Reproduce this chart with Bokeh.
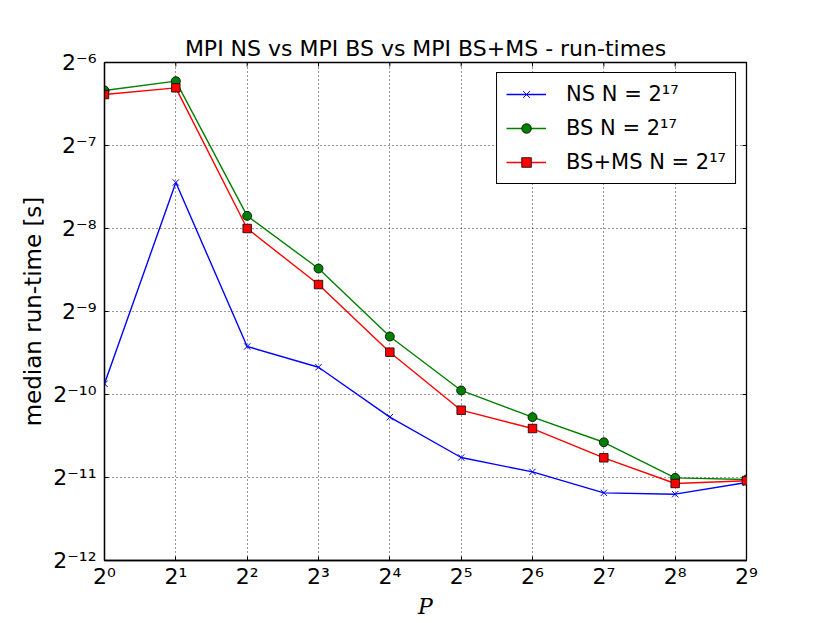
import math
from bokeh.plotting import figure
from bokeh.models import FixedTicker, Range1d, Legend, LegendItem
from bokeh.embed import file_html
from bokeh.resources import INLINE

# Data: number of processes P and median run-times in seconds
P = [1, 2, 4, 8, 16, 32, 64, 128, 256, 512]
ns_time = [0.001068, 0.005735, 0.001458, 0.0012264, 0.0008082,
           0.0005771, 0.0005117, 0.0004295, 0.0004248, 0.0004684]
bs_time = [0.01237, 0.01337, 0.004341, 0.002796, 0.001585,
           0.001010, 0.0008082, 0.0006554, 0.0004869, 0.0004802]
bsms_time = [0.011955, 0.012645, 0.003906, 0.002446, 0.0013906,
             0.0008566, 0.0007350, 0.0005755, 0.0004645, 0.0004750]

series_labels = ["NS N = 2¹⁷", "BS N = 2¹⁷", "BS+MS N = 2¹⁷"]

x_ticks = [1, 2, 4, 8, 16, 32, 64, 128, 256, 512]
x_tick_labels = ["2⁰", "2¹", "2²", "2³", "2⁴", "2⁵", "2⁶", "2⁷", "2⁸", "2⁹"]
y_ticks = [0.000244140625, 0.00048828125, 0.0009765625, 0.001953125,
           0.00390625, 0.0078125, 0.015625]
y_tick_labels = ["2⁻¹²", "2⁻¹¹", "2⁻¹⁰", "2⁻⁹", "2⁻⁸", "2⁻⁷", "2⁻⁶"]

FONT = "DejaVu Sans"

p = figure(frame_width=642, frame_height=498,
           x_axis_type="log", y_axis_type="log",
           x_range=Range1d(x_ticks[0], x_ticks[-1]),
           y_range=Range1d(y_ticks[0], y_ticks[-1]),
           output_backend="svg", toolbar_location=None,
           min_border_left=104, min_border_right=72,
           min_border_top=62, min_border_bottom=56,
           title="MPI NS vs MPI BS vs MPI BS+MS - run-times")

p.title.align = "center"
p.title.text_font = FONT
p.title.text_font_size = "22px"
p.title.text_font_style = "normal"
p.title.text_color = "black"
p.title.standoff = 4

p.outline_line_color = "black"
p.outline_line_width = 1.3
p.outline_line_alpha = 1.0

xt = FixedTicker(ticks=x_ticks)
yt = FixedTicker(ticks=y_ticks)

for ax in p.xaxis:
    ax.ticker = xt
    ax.major_label_overrides = dict(zip(x_ticks, x_tick_labels))
    ax.major_label_standoff = 3
for ax in p.yaxis:
    ax.ticker = yt
    ax.major_label_overrides = dict(zip(y_ticks, y_tick_labels))
    ax.major_label_standoff = 8

for ax in list(p.xaxis) + list(p.yaxis):
    ax.major_label_text_font = FONT
    ax.major_label_text_font_size = "22px"
    ax.major_label_text_color = "black"
    ax.major_tick_in = 4
    ax.major_tick_out = 0
    ax.minor_tick_in = 0
    ax.minor_tick_out = 0
    ax.major_tick_line_color = "black"
    ax.axis_line_color = "black"
    ax.axis_line_width = 1.3
    ax.axis_label_text_color = "black"

p.xaxis.axis_label = "P"
p.xaxis.axis_label_text_font = "DejaVu Serif"
p.xaxis.axis_label_text_font_style = "italic"
p.xaxis.axis_label_text_font_size = "22px"
p.xaxis.axis_label_standoff = 2
p.yaxis.axis_label = "median run-time [s]"
p.yaxis.axis_label_text_font = FONT
p.yaxis.axis_label_text_font_style = "normal"
p.yaxis.axis_label_text_font_size = "23px"
p.yaxis.axis_label_standoff = 4

for g in [p.xgrid[0], p.ygrid[0]]:
    g.grid_line_color = "black"
    g.grid_line_dash = "1 3"
    g.grid_line_width = 1
    g.grid_line_alpha = 0.8

# inward tick marks on the top and right frame edges (half of each dash is clipped)
p.scatter(x_ticks, [y_ticks[-1]] * len(x_ticks), marker="dash", size=8,
          angle=math.pi / 2, line_color="black", line_width=1)
p.scatter([x_ticks[-1]] * len(y_ticks), y_ticks, marker="dash", size=8,
          line_color="black", line_width=1)

LW = 1.4
l1 = p.line(P, ns_time, line_color="#0000ff", line_width=LW)
s1 = p.scatter(P, ns_time, marker="x", size=9, line_color="#0000ff", line_width=1)
l2 = p.line(P, bs_time, line_color="#008000", line_width=LW)
s2 = p.scatter(P, bs_time, marker="circle", size=9, fill_color="#008000",
               line_color="black", line_width=0.8)
l3 = p.line(P, bsms_time, line_color="#ff0000", line_width=LW)
s3 = p.scatter(P, bsms_time, marker="square", size=8.5, fill_color="#ff0000",
               line_color="black", line_width=0.8)

legend = Legend(items=[
    LegendItem(label=series_labels[0], renderers=[l1, s1]),
    LegendItem(label=series_labels[1], renderers=[l2, s2]),
    LegendItem(label=series_labels[2], renderers=[l3, s3]),
], location="top_right")
legend.label_text_font = FONT
legend.label_text_font_size = "21px"
legend.label_text_color = "black"
legend.border_line_color = "black"
legend.border_line_width = 1.3
legend.border_line_alpha = 1
legend.background_fill_alpha = 1
legend.glyph_width = 40
legend.glyph_height = 24
legend.label_height = 24
legend.spacing = 10
legend.padding = 9
legend.margin = 10
legend.label_standoff = 20
p.add_layout(legend)

open("out.html", "w").write(file_html(p, INLINE))
